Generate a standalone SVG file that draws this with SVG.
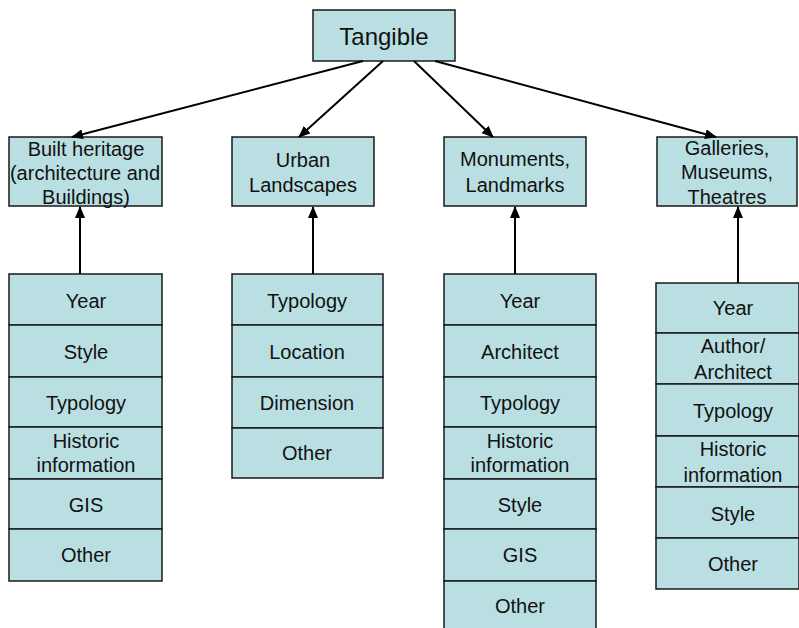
<svg xmlns="http://www.w3.org/2000/svg" width="799" height="628" viewBox="0 0 799 628">
  <style>
    .box { fill: #BADFE3; stroke: #1a1a1a; stroke-width: 1.5; }
    .t { font-family: "Liberation Sans", Arial, sans-serif; font-size: 20px; fill: #111; text-anchor: middle; }
    .title { font-size: 24px; }
    .edge { stroke: #000; stroke-width: 2; fill: none; marker-end: url(#arrow); }
  </style>
  <defs>
    <marker id="arrow" markerUnits="userSpaceOnUse" markerWidth="12" markerHeight="10" refX="11" refY="5" orient="auto">
      <path d="M0,0 L12,5 L0,10 Z" fill="#000"/>
    </marker>
  </defs>
  <rect width="799" height="628" fill="#fff"/>

  <!-- root -->
  <g id="tangible">
    <rect class="box" x="313" y="10" width="142" height="51"/>
    <text class="t title" x="384" y="45">Tangible</text>
  </g>

  <!-- categories -->
  <g id="built-heritage">
    <rect class="box" x="9" y="137" width="153" height="69"/>
    <text class="t" x="86" y="156">Built heritage</text>
    <text class="t" x="85" y="180">(architecture and</text>
    <text class="t" x="86" y="204">Buildings)</text>
  </g>
  <g id="urban-landscapes">
    <rect class="box" x="232" y="137" width="142" height="69"/>
    <text class="t" x="303" y="167">Urban</text>
    <text class="t" x="303" y="192">Landscapes</text>
  </g>
  <g id="monuments">
    <rect class="box" x="444" y="137" width="142" height="69"/>
    <text class="t" x="515" y="166">Monuments,</text>
    <text class="t" x="515" y="192">Landmarks</text>
  </g>
  <g id="galleries">
    <rect class="box" x="657" y="137" width="140" height="69"/>
    <text class="t" x="727" y="155">Galleries,</text>
    <text class="t" x="727" y="179">Museums,</text>
    <text class="t" x="727" y="204">Theatres</text>
  </g>

  <!-- attribute lists -->
  <g id="built-attributes">
    <rect class="box" x="9" y="274" width="153" height="51"/>
    <rect class="box" x="9" y="325" width="153" height="52"/>
    <rect class="box" x="9" y="377" width="153" height="50"/>
    <rect class="box" x="9" y="427" width="153" height="52"/>
    <rect class="box" x="9" y="479" width="153" height="50"/>
    <rect class="box" x="9" y="529" width="153" height="52"/>
    <text class="t" x="86" y="308">Year</text>
    <text class="t" x="86" y="359">Style</text>
    <text class="t" x="86" y="410">Typology</text>
    <text class="t" x="86" y="448">Historic</text>
    <text class="t" x="86" y="472">information</text>
    <text class="t" x="86" y="512">GIS</text>
    <text class="t" x="86" y="562">Other</text>
  </g>
  <g id="urban-attributes">
    <rect class="box" x="232" y="274" width="151" height="51"/>
    <rect class="box" x="232" y="325" width="151" height="52"/>
    <rect class="box" x="232" y="377" width="151" height="51"/>
    <rect class="box" x="232" y="428" width="151" height="50"/>
    <text class="t" x="307" y="308">Typology</text>
    <text class="t" x="307" y="359">Location</text>
    <text class="t" x="307" y="410">Dimension</text>
    <text class="t" x="307" y="460">Other</text>
  </g>
  <g id="monument-attributes">
    <rect class="box" x="444" y="274" width="152" height="51"/>
    <rect class="box" x="444" y="325" width="152" height="52"/>
    <rect class="box" x="444" y="377" width="152" height="50"/>
    <rect class="box" x="444" y="427" width="152" height="52"/>
    <rect class="box" x="444" y="479" width="152" height="50"/>
    <rect class="box" x="444" y="529" width="152" height="52"/>
    <rect class="box" x="444" y="581" width="152" height="52"/>
    <text class="t" x="520" y="308">Year</text>
    <text class="t" x="520" y="359">Architect</text>
    <text class="t" x="520" y="410">Typology</text>
    <text class="t" x="520" y="448">Historic</text>
    <text class="t" x="520" y="472">information</text>
    <text class="t" x="520" y="512">Style</text>
    <text class="t" x="520" y="562">GIS</text>
    <text class="t" x="520" y="613">Other</text>
  </g>
  <g id="gallery-attributes">
    <rect class="box" x="656" y="283" width="143" height="50"/>
    <rect class="box" x="656" y="333" width="143" height="51"/>
    <rect class="box" x="656" y="384" width="143" height="52"/>
    <rect class="box" x="656" y="436" width="143" height="51"/>
    <rect class="box" x="656" y="487" width="143" height="51"/>
    <rect class="box" x="656" y="538" width="143" height="51"/>
    <text class="t" x="733" y="315">Year</text>
    <text class="t" x="733" y="353">Author/</text>
    <text class="t" x="733" y="379">Architect</text>
    <text class="t" x="733" y="418">Typology</text>
    <text class="t" x="733" y="456">Historic</text>
    <text class="t" x="733" y="482">information</text>
    <text class="t" x="733" y="521">Style</text>
    <text class="t" x="733" y="571">Other</text>
  </g>

  <!-- connectors -->
  <g id="connectors">
    <line class="edge" x1="363" y1="61" x2="72" y2="137"/>
    <line class="edge" x1="383" y1="61" x2="299" y2="137"/>
    <line class="edge" x1="414" y1="61" x2="493" y2="137"/>
    <line class="edge" x1="435" y1="61" x2="716" y2="137"/>
    <line class="edge" x1="80" y1="274" x2="80" y2="207"/>
    <line class="edge" x1="313" y1="274" x2="313" y2="207"/>
    <line class="edge" x1="515" y1="274" x2="515" y2="207"/>
    <line class="edge" x1="738" y1="283" x2="738" y2="207"/>
  </g>
</svg>
